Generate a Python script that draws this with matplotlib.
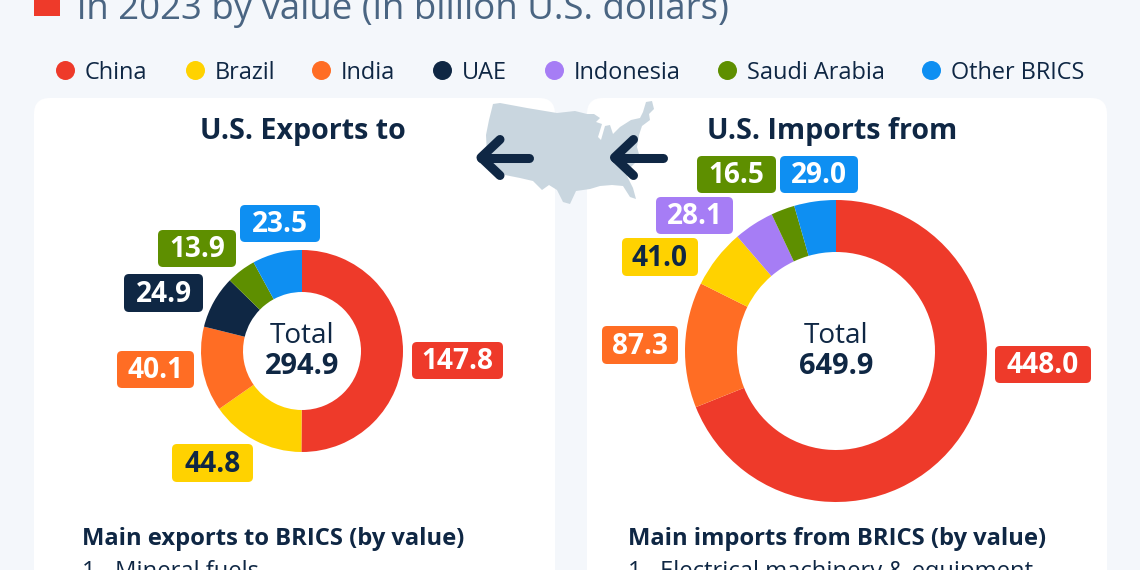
import matplotlib
matplotlib.use("Agg")
import matplotlib.pyplot as plt
from matplotlib.patches import FancyBboxPatch, Polygon, Rectangle

plt.rcParams['font.family'] = ['Open Sans', 'DejaVu Sans']

# Colours per country
RED = "#EE3A2A"
YELLOW = "#FFD200"
ORANGE = "#FF6D24"
NAVY = "#0F2744"
PURPLE = "#A67DF5"
GREEN = "#5E8F00"
BLUE = "#0E8FF2"
TEXT = "#0F2744"
SUBTITLE = "#4A6582"
BG = "#F4F7FB"

legend_names = ["China", "Brazil", "India", "UAE", "Indonesia", "Saudi Arabia", "Other BRICS"]
legend_colors = [RED, YELLOW, ORANGE, NAVY, PURPLE, GREEN, BLUE]

exports_values = [147.8, 44.8, 40.1, 24.9, 13.9, 23.5]
exports_colors = [RED, YELLOW, ORANGE, NAVY, GREEN, BLUE]
exports_total = "294.9"

imports_values = [448.0, 87.3, 41.0, 28.1, 16.5, 29.0]
imports_colors = [RED, ORANGE, YELLOW, PURPLE, GREEN, BLUE]
imports_total = "649.9"

H = 570
fig = plt.figure(figsize=(11.4, 5.7), dpi=100, facecolor=BG)
# axes in image pixels, y measured upward
ax = fig.add_axes([0, 0, 1, 1])


def Y(py):
    return H - py


def px(size):
    return size * 0.72


def card(x0, x1, top):
    ax.add_patch(FancyBboxPatch((x0, -40), x1 - x0, Y(top) + 40,
                                boxstyle="round,pad=0,rounding_size=16",
                                fc="white", ec="none", zorder=1))


def donut(values, colors, cx, cy, r, r_in, total):
    ax.pie(values, colors=colors, startangle=90, counterclock=False, center=(cx, Y(cy)), radius=r,
           wedgeprops=dict(width=r - r_in, linewidth=0), normalize=True, frame=True)
    ax.text(cx, Y(cy - 15), "Total", ha="center", va="center", fontsize=px(28), color=TEXT, zorder=5)
    ax.text(cx, Y(cy + 15), total, ha="center", va="center", fontsize=px(29), color=TEXT,
            fontweight="bold", zorder=5)


def pill(x0, x1, y0, y1, color, label, tcolor="white"):
    ax.add_patch(FancyBboxPatch((x0 + 5, Y(y1) + 5), x1 - x0 - 10, y1 - y0 - 10,
                                boxstyle="round,pad=5,rounding_size=5", fc=color, ec="none", zorder=6))
    ax.text((x0 + x1) / 2, Y((y0 + y1) / 2) - 1, label, ha="center", va="center", fontsize=px(28),
            color=tcolor, fontweight="bold", zorder=7)


card(34, 555, 98)
card(587, 1107, 98)

# Title, cut off by the top edge as in the source
ax.add_patch(Rectangle((34, Y(16)), 26, 30, fc=RED, ec="none", zorder=2))
ax.text(77, Y(19), "in 2023 by value (in billion U.S. dollars)", fontsize=px(36.6), color=SUBTITLE,
        ha="left", va="baseline", zorder=2)

# Legend
legend_dot_x = [65, 195, 321, 442, 554, 727, 931]
for name, color, x in zip(legend_names, legend_colors, legend_dot_x):
    ax.scatter([x], [Y(70)], s=(19 * 0.72) ** 2, color=color, linewidths=0, zorder=3)
    ax.text(x + 20, Y(73), name, ha="left", va="center", fontsize=px(23.5), color=TEXT, zorder=3)

ax.text(302.5, Y(132), "U.S. Exports to", ha="center", va="center", fontsize=px(28.6), fontweight="bold",
        color=TEXT, zorder=3)
ax.text(832.5, Y(132), "U.S. Imports from", ha="center", va="center", fontsize=px(28.6), fontweight="bold",
        color=TEXT, zorder=3)

# US map outline, rough
us_map = [(493, 104), (500, 103), (527, 108), (557, 113), (575, 111), (587, 114), (594, 114), (600, 118),
          (596, 122), (602, 124), (598, 137), (601, 140), (605, 126), (610, 125), (613, 134), (620, 127),
          (631, 120), (640, 118), (643, 112), (646, 102), (652, 101), (654, 109), (649, 114), (650, 120),
          (642, 126), (639, 135), (637, 147), (640, 158), (630, 168), (627, 176), (633, 188), (636, 199),
          (630, 197), (623, 186), (612, 185), (600, 186), (590, 189), (576, 191), (570, 204), (563, 202),
          (557, 190), (549, 185), (542, 190), (533, 181), (520, 178), (505, 175), (495, 168), (487, 155),
          (486, 135), (489, 120)]
ax.add_patch(Polygon([(x, Y(y)) for x, y in us_map], closed=True, fc="#C9D6DF", ec="none", zorder=2))

# Arrows
for tip, tail in [(481, 529), (614.5, 662.5)]:
    ax.plot([tip, tail], [Y(157.5), Y(157.5)], color=NAVY, lw=6.5, solid_capstyle="round", zorder=4)
    ax.plot([tip + 19, tip, tip + 19], [Y(139.5), Y(157.5), Y(175.5)], color=NAVY, lw=6.5,
            solid_capstyle="round", solid_joinstyle="round", zorder=4)

donut(exports_values, exports_colors, 302, 351, 101, 59, exports_total)
donut(imports_values, imports_colors, 836, 351, 151, 99, imports_total)

pill(412, 503, 342, 379, RED, "147.8")
pill(172, 253, 444, 482, YELLOW, "44.8", TEXT)
pill(117, 194, 351, 388, ORANGE, "40.1")
pill(124, 203, 274, 312, NAVY, "24.9")
pill(158, 236, 230, 267, GREEN, "13.9")
pill(240, 320, 205, 242, BLUE, "23.5")

pill(995, 1091, 346, 383, RED, "448.0")
pill(602, 678, 326, 364, ORANGE, "87.3")
pill(622, 698, 238, 276, YELLOW, "41.0", TEXT)
pill(656, 733, 197, 234, PURPLE, "28.1")
pill(697, 776, 156, 193, GREEN, "16.5")
pill(780, 858, 156, 193, BLUE, "29.0")

# Lists below the charts
ax.text(82, Y(545), "Main exports to BRICS (by value)", fontsize=px(23.8), fontweight="bold", color=TEXT,
        ha="left", va="baseline", zorder=3)
ax.text(82, Y(578), "1.", fontsize=px(23.8), color=TEXT, ha="left", va="baseline", zorder=3)
ax.text(115, Y(578), "Mineral fuels", fontsize=px(23.8), color=TEXT, ha="left", va="baseline", zorder=3)
ax.text(628, Y(545), "Main imports from BRICS (by value)", fontsize=px(23.8), fontweight="bold", color=TEXT,
        ha="left", va="baseline", zorder=3)
ax.text(628, Y(578), "1.", fontsize=px(23.8), color=TEXT, ha="left", va="baseline", zorder=3)
ax.text(660, Y(578), "Electrical machinery & equipment", fontsize=px(23.8), color=TEXT, ha="left",
        va="baseline", zorder=3)

ax.set_xlim(0, 1140)
ax.set_ylim(0, H)
ax.set_aspect("auto")
ax.axis("off")

fig.savefig("out.png", dpi=100, facecolor=BG)
